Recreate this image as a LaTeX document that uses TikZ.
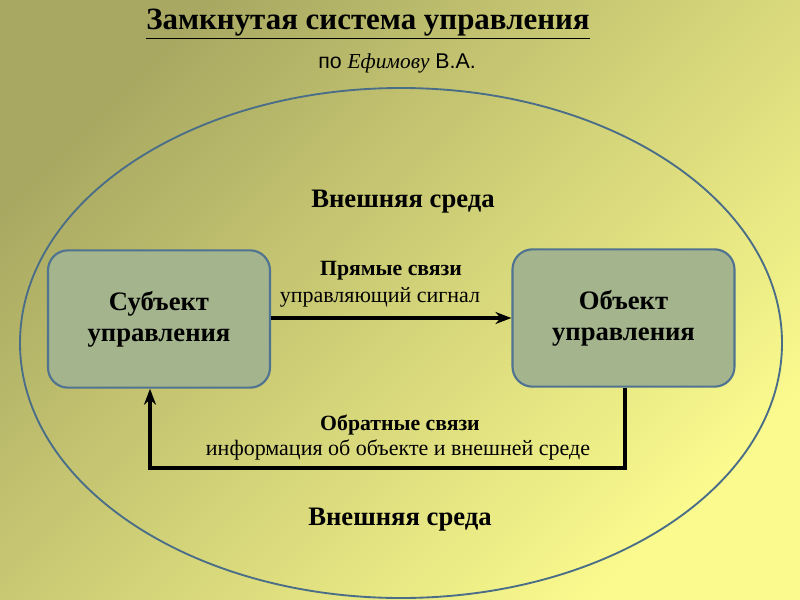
\documentclass[tikz,border=0pt]{standalone}
\usepackage{fontspec}
\setmainfont{Liberation Serif}
\newfontfamily\arialf{Liberation Sans}
\usetikzlibrary{arrows.meta}
\definecolor{bgTL}{HTML}{A8A862}
\definecolor{bgBR}{HTML}{FAFA8E}
\definecolor{boxfill}{HTML}{A4B48C}
\definecolor{boxline}{HTML}{4F7391}
\definecolor{ellline}{HTML}{4A6E88}
\tikzset{
  mainbox/.style={draw=boxline, line width=1.6pt, fill=boxfill, rounded corners=15pt,
    minimum width=166.5pt, minimum height=103pt, align=center,
    font=\fontsize{20}{23.5}\selectfont\bfseries},
  boldlbl/.style={font=\fontsize{16.3}{18}\selectfont\bfseries},
  plainlbl/.style={font=\fontsize{16.5}{18}\selectfont},
  envlbl/.style={font=\fontsize{20}{23}\selectfont\bfseries},
  conn/.style={line width=2.6pt, -{Stealth[length=12pt,width=9pt]}},
}
\begin{document}
\begin{tikzpicture}[x=0.75pt,y=-0.75pt]
\useasboundingbox (0,0) rectangle (800,600);
\shade[top color=bgTL, bottom color=bgBR, shading angle=45] (0,0) rectangle (800,600);
% title
\node[font=\fontsize{23.2}{27}\selectfont\bfseries, inner sep=0pt] (title) at (368,24) {\underline{Замкнутая система управления}};
\node[inner sep=0pt] (author) at (397,63) {\arialf\fontsize{16}{18}\selectfont по {\rmfamily\itshape Ефимову} В.А.};
% ellipse
\draw[ellline, line width=1.4pt] (401,343) ellipse [x radius=381, y radius=255];
\node[envlbl] (envtop) at (403,202) {Внешняя среда};
\node[envlbl] (envbot) at (400,520) {Внешняя среда};
% boxes
\node[mainbox] (subj) at (159,319) {Субъект\\управления};
\node[mainbox] (obj) at (623.5,318) {Объект\\управления};
% direct link
\draw[conn] (subj.east |- 0,318) -- (obj.west |- 0,318);
\node[boldlbl] (direct) at (391,271) {Прямые связи};
\node[plainlbl] (signal) at (380,297) {управляющий сигнал};
% feedback
\coordinate (fbR) at (625,468);
\coordinate (fbL) at (150,468);
\draw[conn] (obj.south -| 625,0) -- (fbR) -- (fbL) -- (subj.south -| 150,0);
\node[boldlbl] (feedback) at (400,425) {Обратные связи};
\node[plainlbl] (info) at (398,450) {информация об объекте и внешней среде};
\end{tikzpicture}
\end{document}
